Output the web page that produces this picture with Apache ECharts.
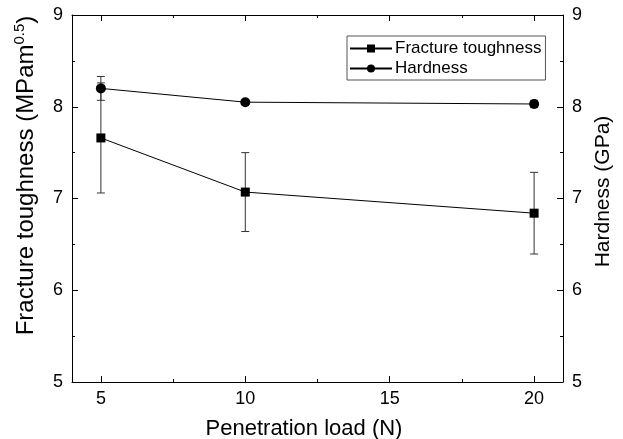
<!DOCTYPE html>
<html>
<head>
    <meta charset="utf-8">
    <title>Toughness and hardness</title>
    <script src="https://cdn.jsdelivr.net/npm/echarts@6.0.0/dist/echarts.min.js"></script>
    <style type="text/css">
        * { margin: 0; padding: 0; }
        body { background: #fff; }
    </style>
</head>
<body>
<div id="main" style="width: 623px; height: 439px;"></div>
<script type="text/javascript">
    // data
    var loads = [5, 10, 20];
    var toughness = [7.66, 7.07, 6.84];
    var toughnessErr = [0.60, 0.43, 0.445];
    var hardness = [8.20, 8.05, 8.03];
    var hardnessErr = [0.13, 0.02, 0.04];
    var xTicks = [5, 10, 15, 20];
    var xMinorTicks = [7.5, 12.5, 17.5];

    var FONT = "'Liberation Sans', Arial, sans-serif";
    var myChart = echarts.init(document.getElementById('main'));

    function pairs(ys) {
        return loads.map(function (x, i) { return [x, ys[i]]; });
    }
    function errData(ys, es) {
        return loads.map(function (x, i) { return [x, ys[i] - es[i], ys[i] + es[i]]; });
    }

    // vertical error bar with caps
    function renderErr(params, api) {
        var x = api.value(0);
        var lo = api.coord([x, api.value(1)]);
        var hi = api.coord([x, api.value(2)]);
        var w = 4;
        var st = { stroke: '#333', lineWidth: 1 };
        return {
            type: 'group',
            children: [
                { type: 'line', shape: { x1: lo[0], y1: lo[1], x2: hi[0], y2: hi[1] }, style: st },
                { type: 'line', shape: { x1: lo[0] - w, y1: lo[1], x2: lo[0] + w, y2: lo[1] }, style: st },
                { type: 'line', shape: { x1: hi[0] - w, y1: hi[1], x2: hi[0] + w, y2: hi[1] }, style: st }
            ]
        };
    }

    var axisLine = { show: true, lineStyle: { color: '#000', width: 1 } };

    function xAx(pos, ticks, len, main) {
        return {
            type: 'value', min: 4, max: 21, position: pos,
            axisLine: main ? axisLine : { show: false },
            axisTick: { show: true, inside: true, length: len, customValues: ticks, lineStyle: { color: '#000' } },
            axisLabel: main && pos === 'bottom' ? { show: true, customValues: xTicks, fontSize: 18, color: '#000', fontFamily: FONT, margin: 8 } : { show: false },
            splitLine: { show: false },
            name: main && pos === 'bottom' ? 'Penetration load (N)' : '',
            nameLocation: 'middle',
            nameGap: 36,
            nameTextStyle: { fontSize: 22, color: '#000', fontFamily: FONT, padding: [0, 27, 0, 0] }
        };
    }

    function yAx(pos, name, nameStyle, gap) {
        return {
            type: 'value', min: 5, max: 9, interval: 1, position: pos,
            axisLine: axisLine,
            axisTick: { show: true, inside: true, length: 6, lineStyle: { color: '#000' } },
            minorTick: { show: true, splitNumber: 2, length: 3, lineStyle: { color: '#000' } },
            axisLabel: { fontSize: 18, color: '#000', fontFamily: FONT, margin: 9 },
            splitLine: { show: false },
            minorSplitLine: { show: false },
            name: name,
            nameLocation: 'middle',
            nameRotate: 90,
            nameGap: gap,
            nameTextStyle: nameStyle
        };
    }

    var option = {
        animation: false,
        backgroundColor: '#fff',
        textStyle: { fontFamily: FONT },
        grid: { left: 72, right: 60, top: 15, bottom: 57, outerBoundsMode: 'none', containLabel: false },
        legend: {
            orient: 'vertical',
            left: 347, top: 36,
            data: ['Fracture toughness', 'Hardness'],
            itemWidth: 42, itemHeight: 10, itemGap: 3,
            padding: [4, 4, 3, 2],
            borderColor: '#555', borderWidth: 1,
            textStyle: { fontSize: 17, color: '#000', fontFamily: FONT, padding: [0, 0, 0, -2] }
        },
        xAxis: [
            xAx('bottom', xTicks, 6, true),
            xAx('bottom', xMinorTicks, 3, false),
            xAx('top', xTicks, 6, true),
            xAx('top', xMinorTicks, 3, false)
        ],
        yAxis: [
            yAx('left', '{a|Fracture toughness (MPam}{s|0.5}{a|)}', {
                color: '#000', fontFamily: FONT, padding: [0, 0, 0, 46],
                rich: {
                    a: { fontSize: 24, color: '#000', fontFamily: FONT, lineHeight: 28 },
                    s: { fontSize: 15, color: '#000', fontFamily: FONT, verticalAlign: 'top', lineHeight: 28, padding: [0, 0, 10, 0] }
                }
            }, 32),
            yAx('right', 'Hardness (GPa)', { fontSize: 21, color: '#000', fontFamily: FONT, padding: [0, 0, 0, 14] }, 27)
        ],
        series: [
            {
                name: 'Fracture toughness', type: 'line', xAxisIndex: 0, yAxisIndex: 0,
                data: pairs(toughness),
                symbol: 'rect', symbolSize: 9,
                itemStyle: { color: '#000' },
                lineStyle: { color: '#000', width: 1 },
                z: 3
            },
            {
                name: 'Hardness', type: 'line', xAxisIndex: 0, yAxisIndex: 1,
                data: pairs(hardness),
                symbol: 'circle', symbolSize: 10,
                itemStyle: { color: '#000' },
                lineStyle: { color: '#000', width: 1 },
                z: 3
            },
            {
                type: 'custom', xAxisIndex: 0, yAxisIndex: 0,
                renderItem: renderErr,
                data: errData(toughness, toughnessErr),
                encode: { x: 0, y: [1, 2] },
                z: 2
            },
            {
                type: 'custom', xAxisIndex: 0, yAxisIndex: 1,
                renderItem: renderErr,
                data: errData(hardness, hardnessErr),
                encode: { x: 0, y: [1, 2] },
                z: 2
            }
        ]
    };

    myChart.setOption(option);

    window.addEventListener('resize', function () {
        myChart.resize();
    });
</script>
</body>
</html>
